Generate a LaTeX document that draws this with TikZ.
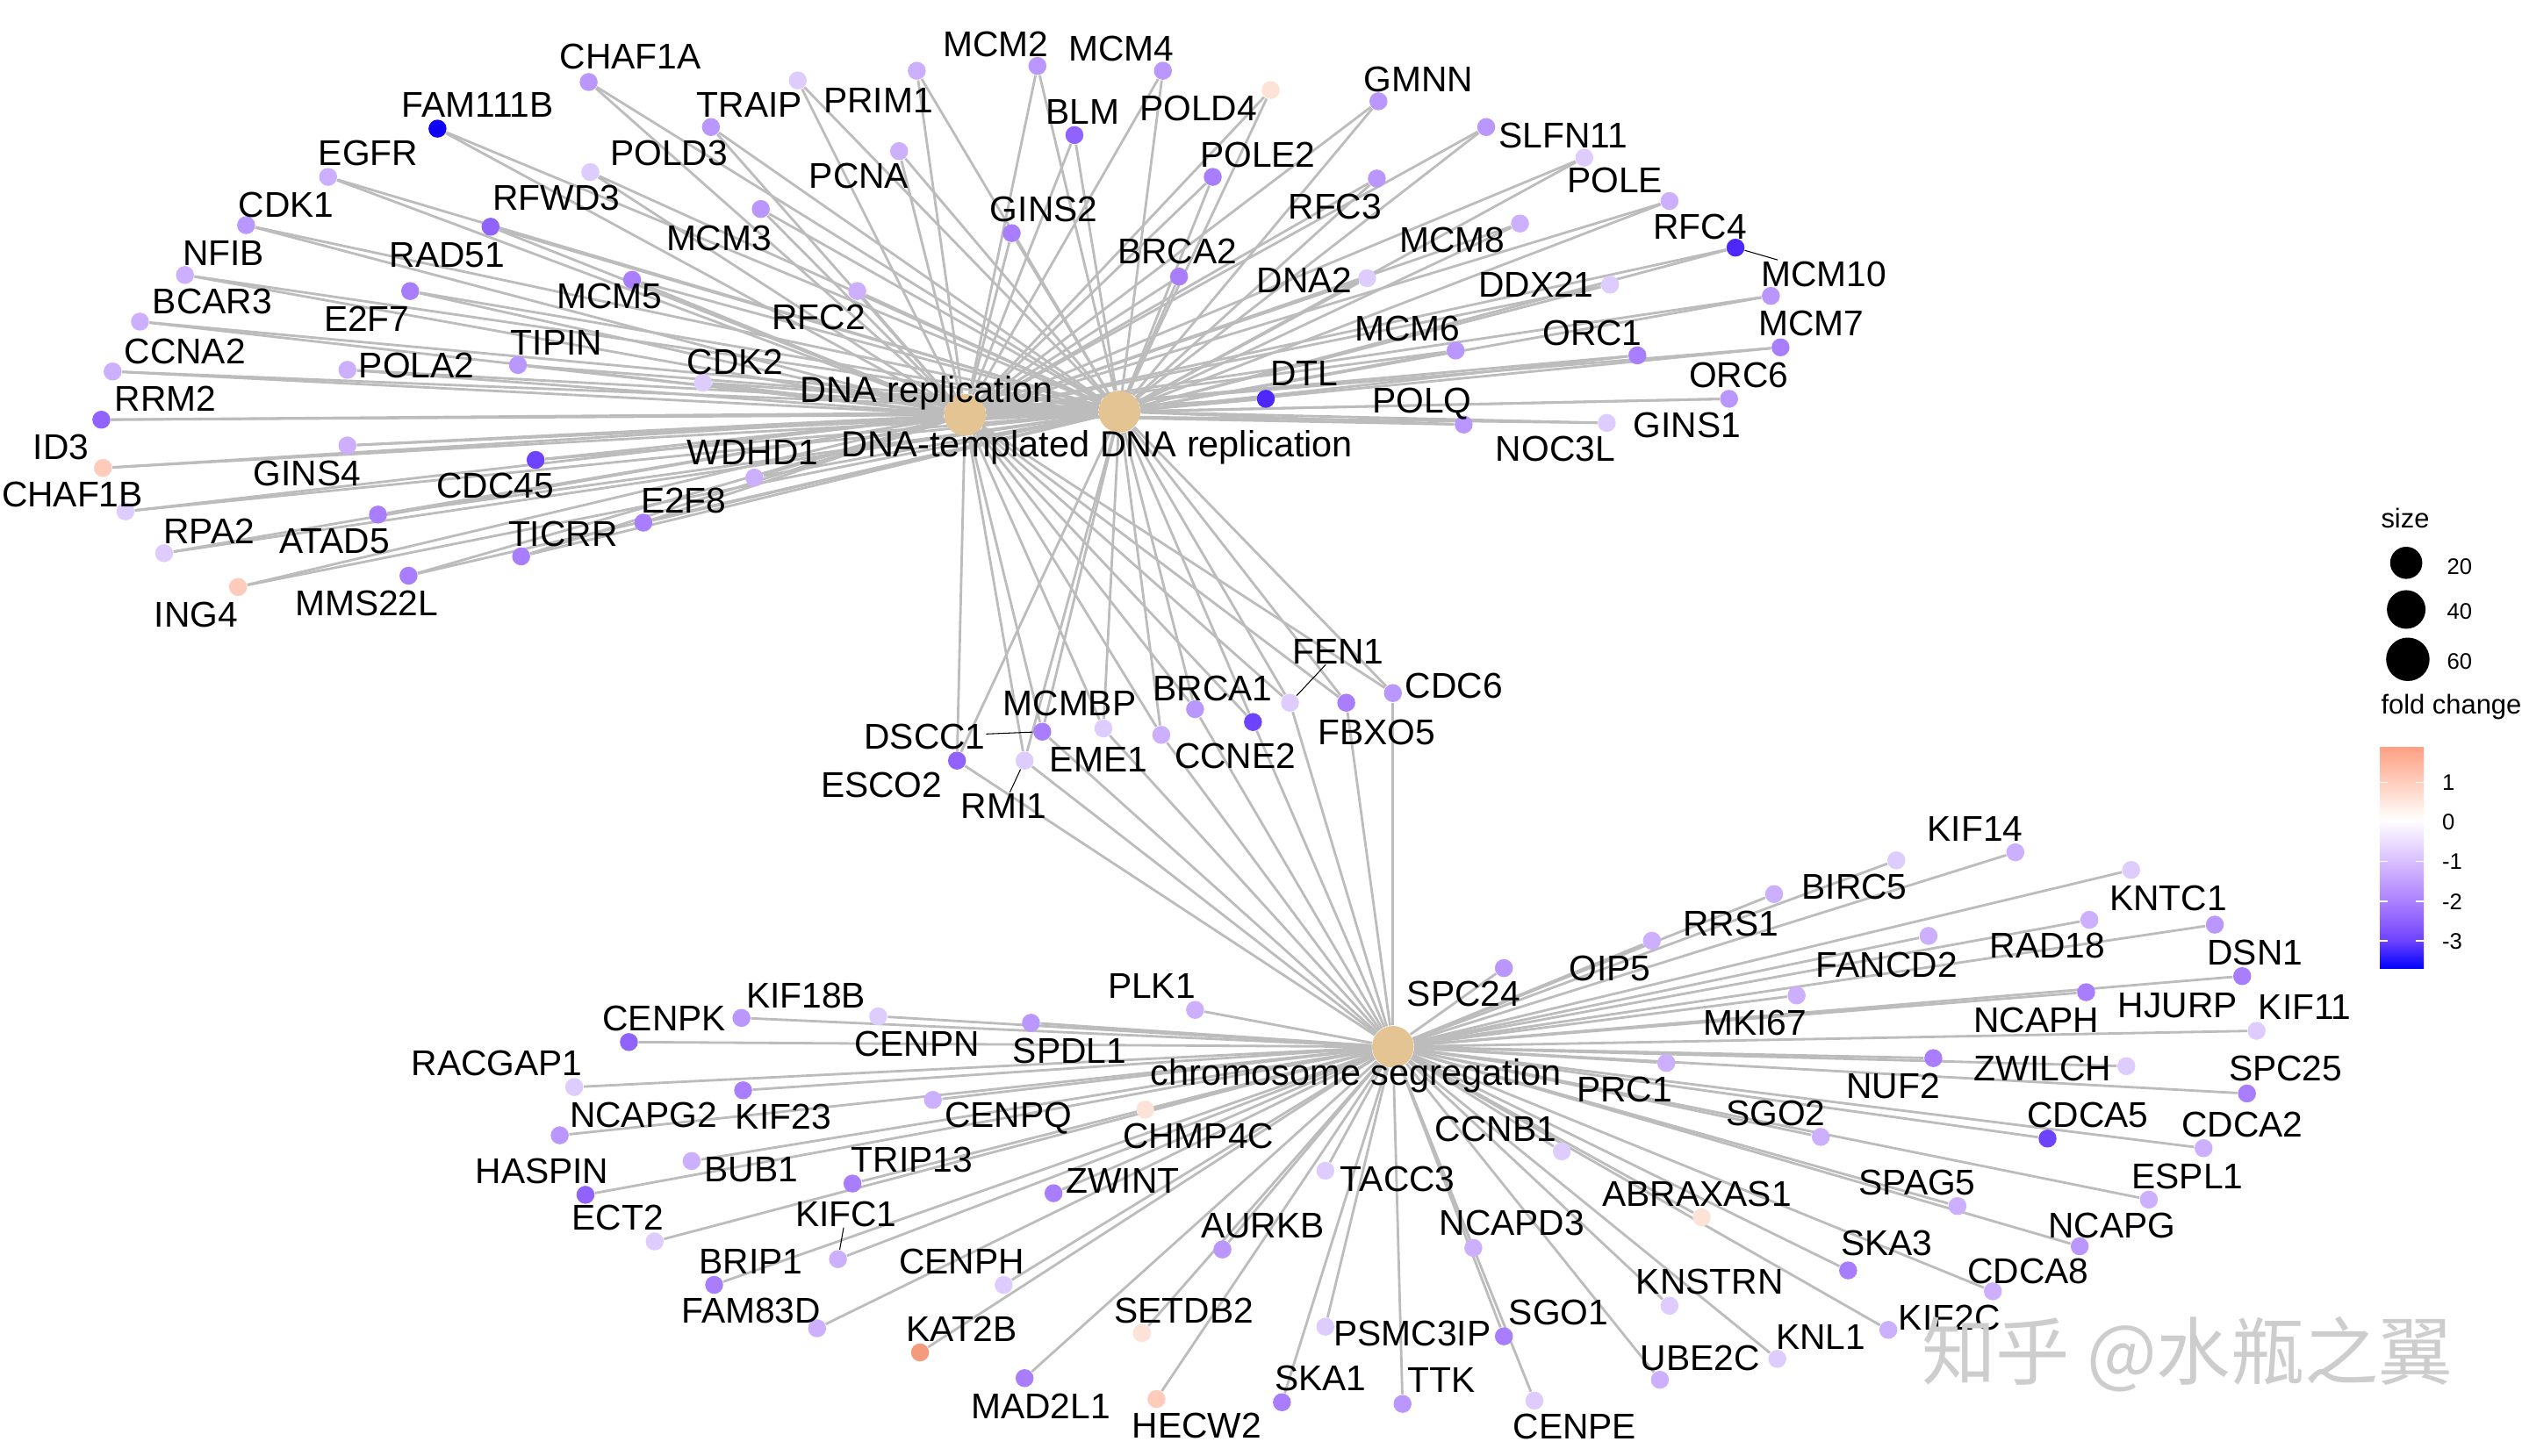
\documentclass[tikz,border=0pt]{standalone}
\usepackage{fontspec}
\setmainfont{Liberation Sans}
\newfontfamily\cjkfont{Noto Sans CJK SC}
\usetikzlibrary{backgrounds}

\definecolor{edgegray}{RGB}{188,188,188}
\definecolor{hubtan}{RGB}{229,196,148}
\definecolor{wmgray}{RGB}{205,205,205}
% dot colours, light to dark, then the positive ones
\definecolor{fca}{RGB}{222,204,255}
\definecolor{fcb}{RGB}{204,175,255}
\definecolor{fcc}{RGB}{186,150,255}
\definecolor{fcd}{RGB}{168,126,255}
\definecolor{fce}{RGB}{144,99,255}
\definecolor{fcf}{RGB}{110,67,255}
\definecolor{fch}{RGB}{78,40,250}
\definecolor{fcg}{RGB}{15,0,250}
\definecolor{fcsa}{RGB}{252,226,215}
\definecolor{fcsb}{RGB}{255,203,186}
\definecolor{fcsc}{RGB}{245,155,125}
% colour bar
\definecolor{shda}{RGB}{0,0,255}
\definecolor{shdb}{RGB}{110,67,255}
\definecolor{shdc}{RGB}{144,99,255}
\definecolor{shdd}{RGB}{172,130,255}
\definecolor{shde}{RGB}{195,161,255}
\definecolor{shdf}{RGB}{217,192,255}
\definecolor{shdg}{RGB}{237,223,255}
\definecolor{shdh}{RGB}{255,255,255}
\definecolor{shdi}{RGB}{255,229,220}
\definecolor{shdj}{RGB}{255,203,186}
\definecolor{shdk}{RGB}{255,160,132}
\pgfdeclareverticalshading{fcbar}{100bp}{color(0bp)=(shda); color(25bp)=(shda);
  color(31.42bp)=(shdb); color(35.94bp)=(shdc); color(40.46bp)=(shdd);
  color(44.98bp)=(shde); color(49.5bp)=(shdf); color(54.02bp)=(shdg);
  color(58.55bp)=(shdh); color(63.07bp)=(shdi); color(67.59bp)=(shdj);
  color(75bp)=(shdk); color(100bp)=(shdk)}

\begin{document}
\begin{tikzpicture}[x=0.018323cm, y=-0.018323cm,
    gdot/.style={circle, inner sep=0pt, minimum size=0.205cm},
    hub/.style={circle, fill=hubtan, inner sep=0pt, minimum size=0.476cm},
    glab/.style={inner sep=0pt, text height=8.3pt, text depth=0pt, font=\fontsize{11.6}{13}\selectfont},
    tlab/.style={inner sep=0pt, text height=8.45pt, text depth=0pt, font=\fontsize{11.8}{13}\selectfont},
    lgd/.style={anchor=west, inner sep=0pt, text height=5.23pt, text depth=0pt, font=\fontsize{7.3}{9}\selectfont},
    lgdtitle/.style={anchor=west, inner sep=0pt, text height=6.3pt, text depth=0pt, font=\fontsize{8.8}{10}\selectfont},
    link/.style={edgegray, line width=0.8pt},
    leader/.style={black, line width=0.3pt}]
      \useasboundingbox (0,0) rectangle (1568,905.4);

      % the three terms
      \node[hub] (dnarep) at (600,258) {};
      \node[hub] (dnatemp) at (696,256) {};
      \node[hub] (chromseg) at (866,651) {};

      % genes of the two DNA replication terms
      \foreach \x/\y/\c [count=\i] in {366/51/fcc, 272/80/fcg, 496/50/fca, 442/79/fcc, 204/110/fcb,
        367/107/fca, 473/130/fcc, 153/140/fcc, 305/141/fce, 115/171/fcb, 255/181/fcd, 393/174/fcd,
        533/181/fcb, 87/200/fcb, 70/231/fcb, 216/230/fcb, 322/227/fcc, 437/238/fca, 63/261/fce,
        216/277/fcb, 333/286/fcf, 64/291/fcsb, 469/297/fcb, 78/318/fca, 235/320/fcd, 400/325/fcd,
        102/344/fca, 324/346/fcd, 148/365/fcsb, 254/358/fcd,
        570/44/fcb, 645/41/fcc, 723/44/fcc, 790/56/fcsa, 559/94/fcb, 668/84/fce, 857/63/fcc,
        924/79/fcc, 754/110/fcd, 856/111/fcc, 985/98/fca, 1038/125/fcb, 629/145/fcd, 945/139/fcb,
        1079/154/fch, 733/172/fcd, 850/173/fca, 1001/177/fca, 1101/184/fcc, 905/218/fcc,
        1018/221/fcd, 1107/216/fcd, 787/248/fch, 1075/248/fcc, 910/264/fcc, 999/263/fca}
        \node[gdot, fill=\c] (t\i) at (\x,\y) {};

      % genes shared by all three terms
      \foreach \x/\y/\c [count=\i] in {595/473/fce, 637/473/fca, 648/455/fcd, 686/453/fca,
        722/457/fcb, 743/441/fcc, 779/449/fcf, 802/437/fca, 837/437/fcd, 866/431/fcc}
        \node[gdot, fill=\c] (m\i) at (\x,\y) {};

      % genes of chromosome segregation
      \foreach \x/\y/\c [count=\i] in {461/633/fcc, 546/632/fca, 641/636/fcc, 743/628/fcb,
        391/648/fce, 357/676/fca, 462/678/fcd, 580/684/fcb, 712/690/fcsa, 348/706/fcc, 430/722/fcb,
        530/736/fcd, 824/728/fca, 364/743/fce, 655/742/fcd, 407/772/fca, 521/783/fcb, 760/777/fcc,
        916/776/fcb, 444/799/fcd, 624/799/fca, 508/826/fcb, 710/829/fcsa, 824/825/fca, 572/841/fcsc,
        637/857/fcd, 719/870/fcsb, 797/872/fcd, 872/873/fcc,
        1253/530/fcb, 1179/535/fca, 1325/541/fca, 1103/556/fcb, 1027/585/fcb, 935/602/fcc,
        1299/572/fcb, 1199/582/fcb, 1377/575/fcc, 1117/619/fcb, 1394/607/fcd, 1297/617/fcd,
        1403/641/fca, 1036/661/fcb, 1202/658/fcd, 1322/663/fca, 1397/680/fcd, 1132/707/fcb,
        1273/708/fcf, 1370/714/fcb, 971/716/fca, 1336/746/fcb, 1217/750/fcb, 1058/757/fcsa,
        1293/775/fcc, 1149/790/fcd, 1239/803/fcb, 1038/812/fca, 935/831/fcd, 1174/827/fcb,
        1105/845/fca, 1032/858/fcb, 954/871/fca}
        \node[gdot, fill=\c] (b\i) at (\x,\y) {};

      \begin{pgfonlayer}{background}
        \fill[white] (0,0) rectangle (1568,905.4);
        \foreach \i in {1,...,56} {
          \draw[link] (dnarep) -- (t\i);
          \draw[link] (dnatemp) -- (t\i);
        }
        \foreach \i in {1,...,10} {
          \draw[link] (dnarep) -- (m\i);
          \draw[link] (dnatemp) -- (m\i);
          \draw[link] (chromseg) -- (m\i);
        }
        \foreach \i in {1,...,62}
          \draw[link] (chromseg) -- (b\i);
      \end{pgfonlayer}

      % term labels
      \node[tlab] (ldnarep) at (576,242) {DNA replication};
      \node[tlab] (ldnatemp) at (682,276) {DNA-templated DNA replication};
      \node[tlab] (lchromseg) at (843,667) {chromosome segregation};

      % gene labels
      \foreach \gn/\x/\y in {CHAF1A/392/35, FAM111B/297/65, TRAIP/466/65, PRIM1/546/62,
        MCM2/619/27, MCM4/697/30, BLM/673/69, POLD4/745/67, GMNN/882/49, EGFR/229/95,
        POLD3/416/95, PCNA/534/109, POLE2/782/96, SLFN11/972/84, CDK1/178/127, RFWD3/346/123,
        GINS2/649/130, RFC3/830/128, POLE/1004/112, MCM3/447/148, NFIB/139/157, RAD51/278/158,
        BRCA2/732/156, MCM8/903/149, RFC4/1057/141, MCM10/1134/170, BCAR3/132/187, MCM5/379/184,
        E2F7/228/198, DNA2/811/174, DDX21/955/177, RFC2/509/197, MCM7/1126/201, CCNA2/115/218,
        TIPIN/346/213, POLA2/259/227, CDK2/457/225, MCM6/875/204, ORC1/990/207, DTL/811/232,
        ORC6/1081/233, RRM2/103/248, POLQ/884/249, GINS1/1049/264, ID3/38/278, CHAF1B/45/307,
        GINS4/191/294, CDC45/308/302, WDHD1/468/281, E2F8/425/311, NOC3L/967/279, RPA2/130/330,
        ATAD5/208/336, TICRR/350/332, ING4/122/382, MMS22L/228/375,
        FEN1/832/405, CDC6/904/426, BRCA1/754/428, MCMBP/665/437, DSCC1/575/458, EME1/683/472,
        CCNE2/768/470, FBXO5/856/455, ESCO2/548/488, RMI1/624/501,
        PLK1/716/613, KIF18B/501/619, CENPK/413/633, CENPN/570/649, SPDL1/665/653,
        RACGAP1/309/661, NCAPG2/400/693, KIF23/487/694, CENPQ/627/693, CHMP4C/745/706,
        HASPIN/337/728, BUB1/467/727, TRIP13/567/721, ZWINT/698/734, TACC3/869/733, ECT2/384/757,
        KIFC1/526/755, AURKB/785/762, BRIP1/467/784, CENPH/598/784, FAM83D/467/815,
        SETDB2/736/815, KAT2B/598/826, PSMC3IP/878/829, SKA1/821/857, TTK/896/858,
        MAD2L1/647/874, HECW2/744/886,
        KIF14/1228/515, BIRC5/1153/551, KNTC1/1348/558, RRS1/1076/574, OIP5/1001/602,
        FANCD2/1173/600, RAD18/1273/588, DSN1/1402/592, SPC24/910/618, HJURP/1354/625,
        KIF11/1433/626, MKI67/1091/636, NCAPH/1266/634, ZWILCH/1270/664, SPC25/1421/664,
        NUF2/1177/675, PRC1/1010/677, SGO2/1104/692, CDCA5/1298/693, CDCA2/1394/699,
        CCNB1/930/702, ESPL1/1360/731, SPAG5/1192/735, ABRAXAS1/1055/742, NCAPD3/940/760,
        NCAPG/1313/762, SKA3/1173/773, CDCA8/1261/790, KNSTRN/1063/797, SGO1/969/816,
        KIF2C/1212/819, KNL1/1132/831, UBE2C/1057/844, CENPE/979/887}
        \node[glab] (l\gn) at (\x,\y) {\gn};

      % leader lines of moved labels
      \draw[leader] (lMCM10) -- (t45);
      \draw[leader] (lDSCC1) -- (m3);
      \draw[leader] (lRMI1) -- (m2);
      \draw[leader] (lFEN1) -- (m8);
      \draw[leader] (lKIFC1) -- (b17);

      % legend: size
      \node[lgdtitle] (sizetitle) at (1480,322) {size};
      \node[circle, fill=black, inner sep=0pt, minimum size=0.366cm] (sza) at (1496,350) {};
      \node[circle, fill=black, inner sep=0pt, minimum size=0.44cm] (szb) at (1496,379) {};
      \node[circle, fill=black, inner sep=0pt, minimum size=0.495cm] (szc) at (1497,410) {};
      \node[lgd] (lsza) at (1521,352) {20};
      \node[lgd] (lszb) at (1521,380) {40};
      \node[lgd] (lszc) at (1521,411) {60};

      % legend: fold change
      \node[lgdtitle] (fctitle) at (1480,438) {fold change};
      \shade[shading=fcbar] (1479.6,464.7) rectangle (1506.9,602.4);
      \foreach \y in {486.5,535.7,560.4,585.1} {
        \draw[white, line width=0.5pt] (1479.6,\y) -- +(5,0);
        \draw[white, line width=0.5pt] (1506.9,\y) -- +(-5,0);
      }
      \foreach \v/\y [count=\i] in {1/486.5, 0/511, -1/535.7, -2/560.4, -3/585.1}
        \node[lgd] (fctick\i) at (1518,\y) {\v};

      \node[inner sep=0pt, text=wmgray, font=\cjkfont\fontsize{24}{24}\selectfont] (watermark) at (1360,842) {知乎 @水瓶之翼};
    \end{tikzpicture}
\end{document}
